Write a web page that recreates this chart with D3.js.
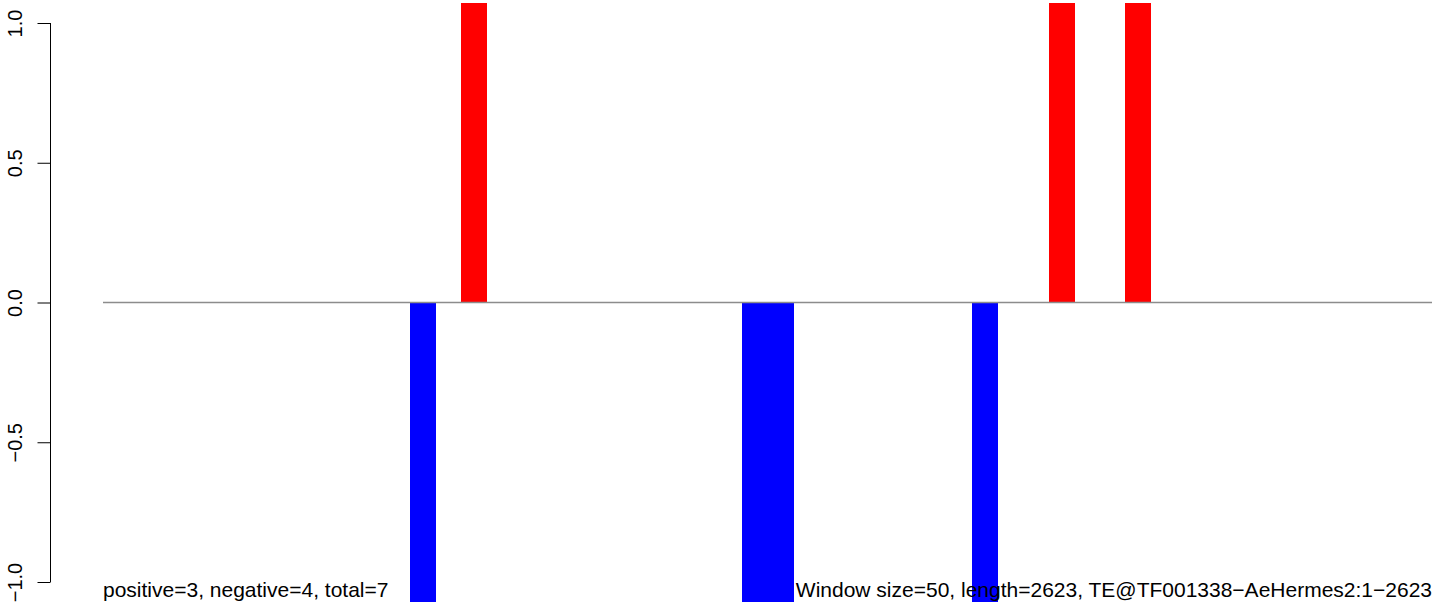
<!DOCTYPE html>
<html>
<head>
  <meta charset="utf-8">
  <title>TE window plot</title>
  <script src="https://cdn.jsdelivr.net/npm/d3@7"></script>
  <style>
    body { margin: 0; background: #fff; }
    text { font-family: "Liberation Sans", Arial, sans-serif; }
  </style>
</head>
<body>
  <div class="svg"></div>
  <script>
    // 52 windows of 50 bp over a 2623 bp element
    var windowCount = 52;
    var hitWindows = [12, 14, 25, 26, 34, 37, 40];
    var hitValues = [-1.07, 1.07, -1.07, -1.07, -1.07, 1.07, 1.07];
    var yTicks = [-1.0, -0.5, 0.0, 0.5, 1.0];
    var leftNote = "positive=3, negative=4, total=7";
    var rightNote = "Window size=50, length=2623, TE@TF001338\u2212AeHermes2:1\u22122623";

    var width = 1444, height = 613;
    var margin = { left: 103, right: 12 };

    var svg = d3.select(".svg")
      .append("svg")
      .attr("width", width)
      .attr("height", height);

    var x = d3.scaleLinear()
      .domain([0, windowCount])
      .range([margin.left, width - margin.right]);

    var y = d3.scaleLinear()
      .domain([-1, 1])
      .range([582, 23]);

    var bars = hitWindows.map(function (w, i) { return { w: w, v: hitValues[i] }; });

    svg.append("g")
      .selectAll("rect")
      .data(bars)
      .enter().append("rect")
      .attr("x", function (d) { return x(d.w); })
      .attr("width", function (d) { return x(d.w + 1) - x(d.w) + 0.5; })
      .attr("y", function (d) { return y(Math.max(0, d.v)); })
      .attr("height", function (d) { return Math.abs(y(d.v) - y(0)); })
      .style("shape-rendering", "crispEdges")
      .style("fill", function (d) { return d.v > 0 ? "#ff0000" : "#0000ff"; });

    // zero line
    svg.append("line")
      .attr("x1", x(0)).attr("x2", x(windowCount))
      .attr("y1", y(0)).attr("y2", y(0))
      .style("stroke", "#8c8c8c")
      .style("stroke-width", 1.3);

    // y axis, R style
    var axis = svg.append("g")
      .attr("transform", "translate(50.5,0)")
      .call(d3.axisLeft(y).tickValues(yTicks).tickSize(13).tickFormat(d3.format(".1f")));
    axis.select(".domain").attr("d", "M0," + y(-1) + "V" + y(1)).style("stroke", "#000");
    axis.selectAll(".tick line").style("stroke", "#000");
    axis.selectAll(".tick text")
      .attr("x", null).attr("dy", null)
      .attr("transform", "translate(-29,0) rotate(-90)")
      .attr("text-anchor", "middle")
      .style("font-size", "20px")
      .style("font-family", "Liberation Sans, Arial, sans-serif")
      .style("fill", "#000")
      .text(function (d) { return d3.format(".1f")(d).replace("-", "\u2212"); });

    svg.append("text")
      .attr("x", x(0))
      .attr("y", 597)
      .style("font-size", "21px")
      .text(leftNote);

    svg.append("text")
      .attr("x", x(windowCount))
      .attr("y", 597)
      .attr("text-anchor", "end")
      .style("font-size", "21px")
      .text(rightNote);
  </script>
</body>
</html>
